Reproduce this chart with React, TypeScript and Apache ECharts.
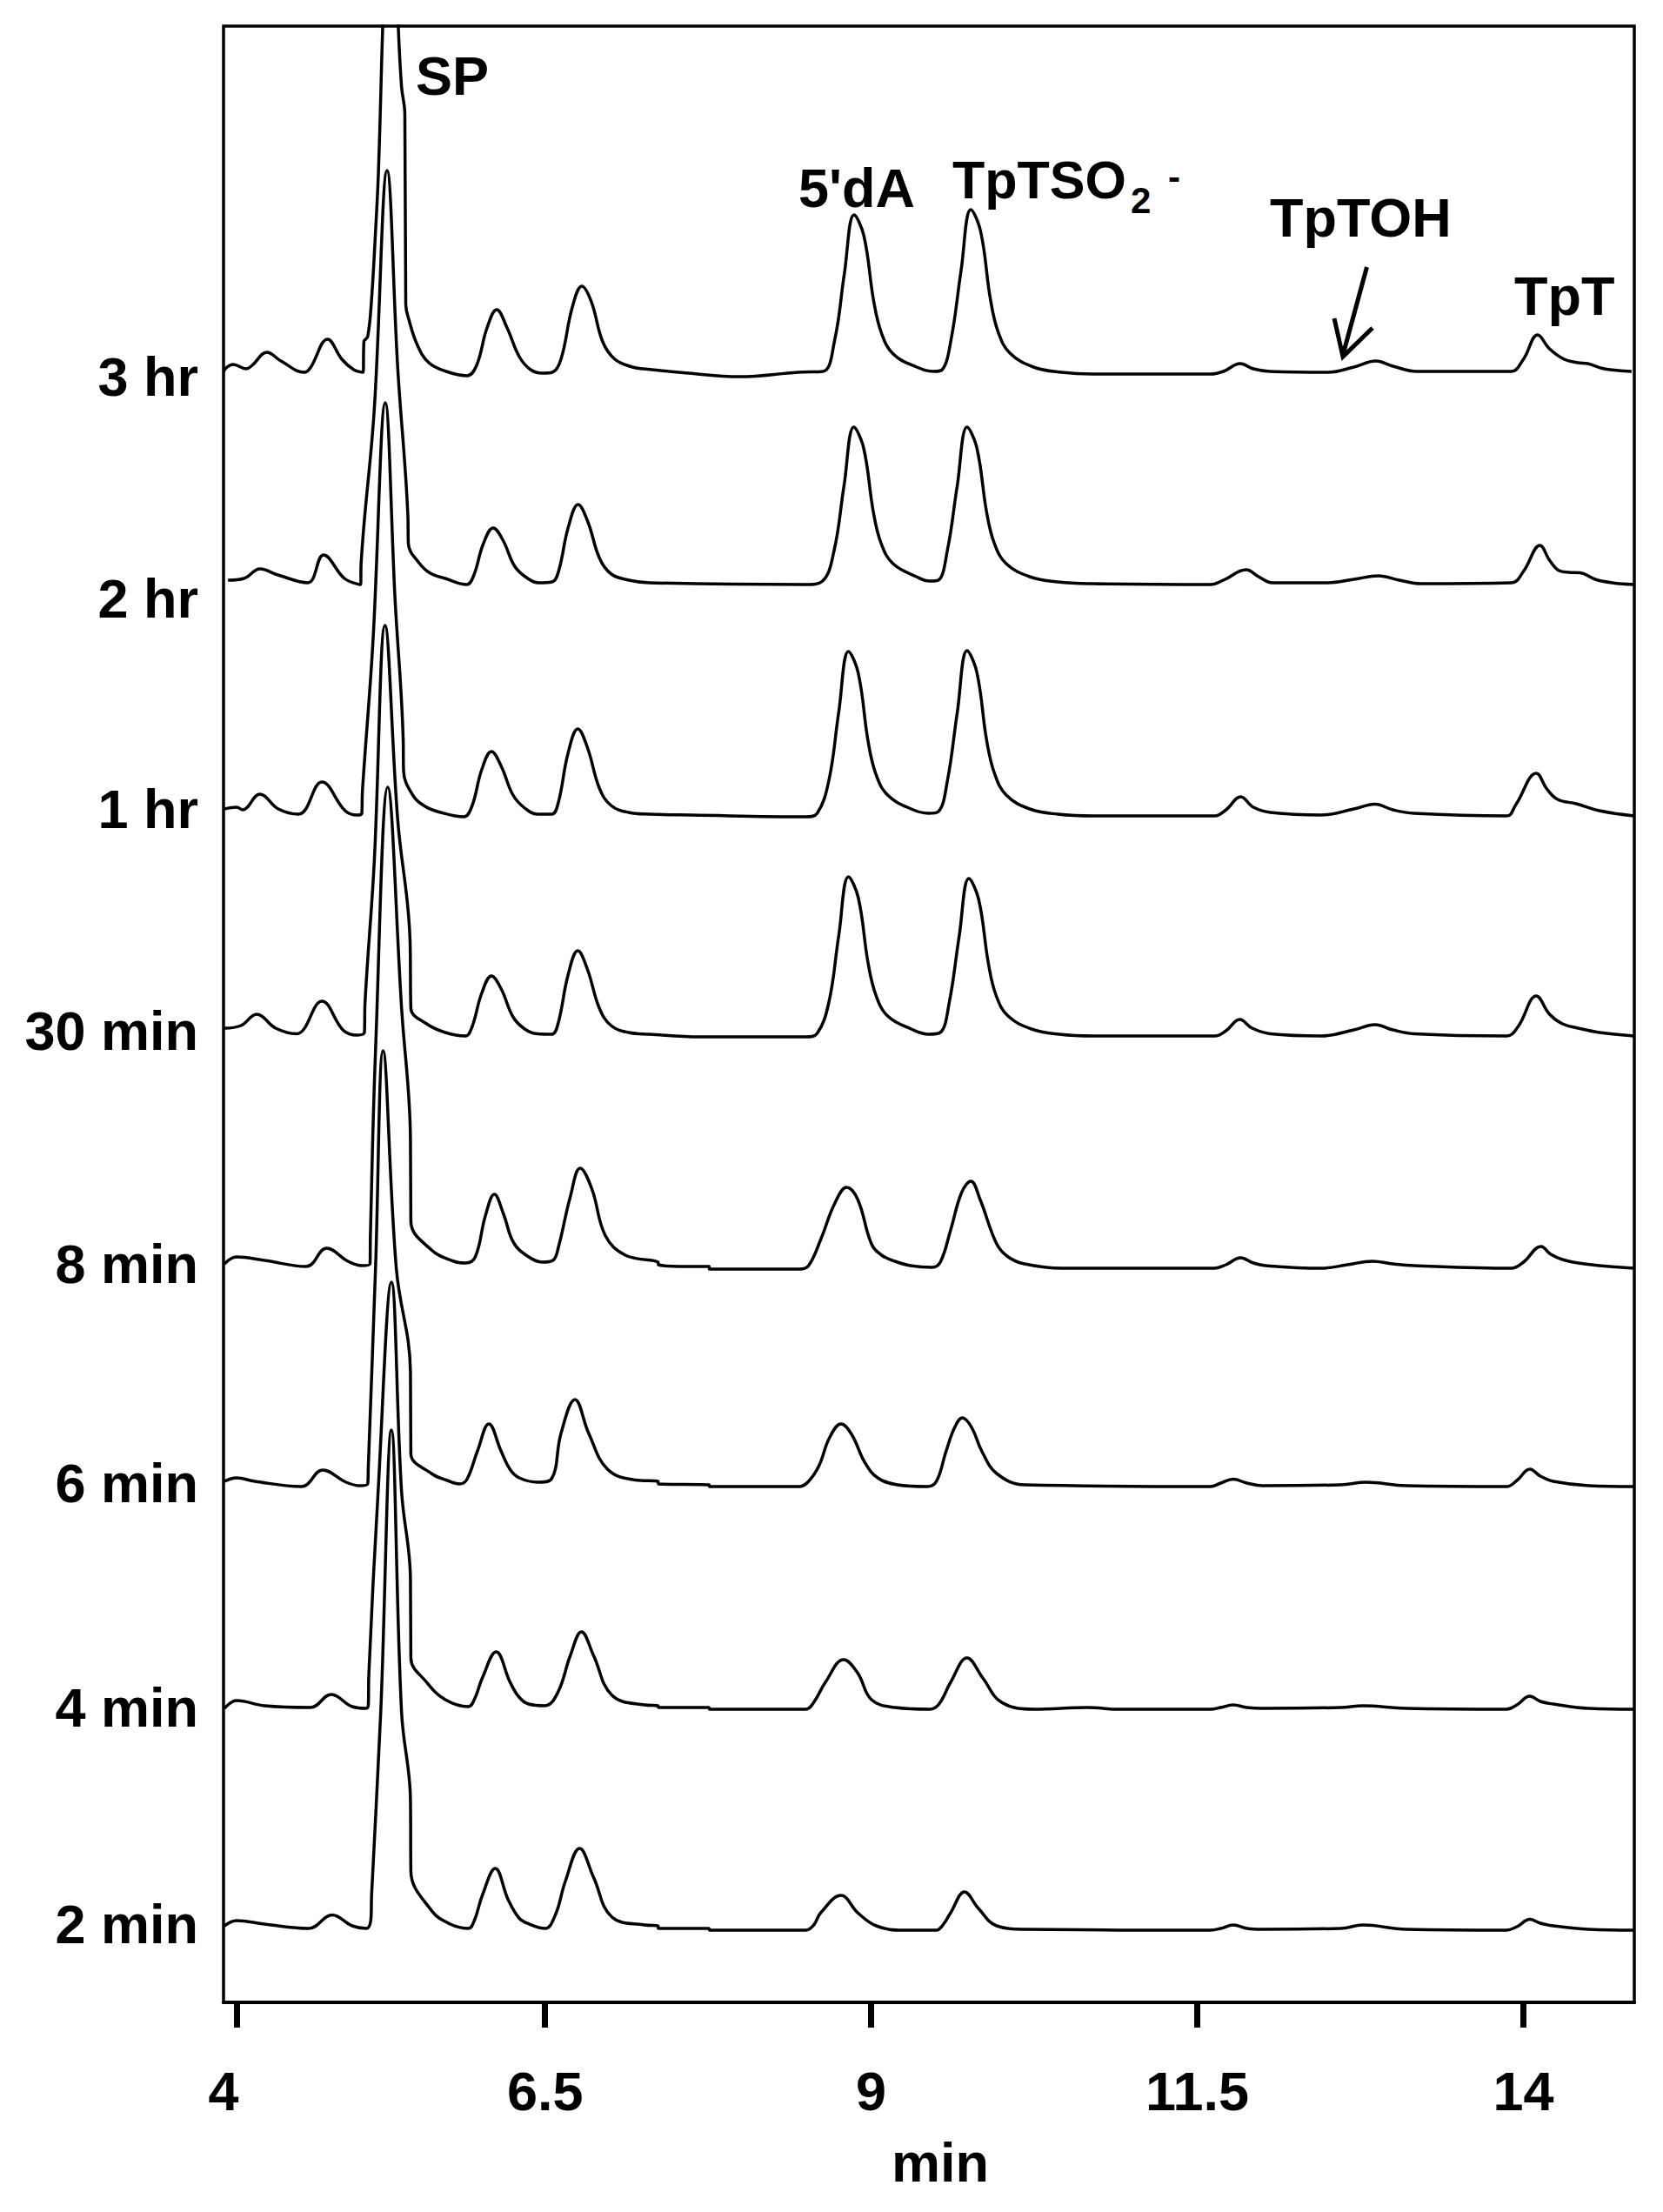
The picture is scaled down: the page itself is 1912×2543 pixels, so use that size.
import React, { useEffect, useRef } from 'react';
import * as echarts from 'echarts';

// Trace names (top to bottom) and flat-baseline offsets (stacked display units)
const TRACE_NAMES = ['3 hr', '2 hr', '1 hr', '30 min', '8 min', '6 min', '4 min', '2 min'];
const BASELINES = [1871, 1630, 1363, 1110, 843, 593, 337, 83];
const LABEL_LEVELS = [1869, 1614, 1372, 1117, 849, 597, 339, 90];

const X_TICK_VALUES = [4.14, 6.5, 9, 11.5, 14];
const X_LABEL_VALUES = [4.035, 6.5, 9, 11.5, 14];
const X_TICK_LABELS = ['4', '6.5', '9', '11.5', '14'];

// [retention time (min), signal above baseline]
const TRACE_3HR = [[4.035,3],[4.055,8],[4.109,12],[4.209,7],[4.255,11],[4.367,26],[4.475,16],[4.655,3],[4.70,8],[4.833,41],[4.942,18],[5.033,6],[5.105,3],[5.111,38],[5.14,44],[5.167,81],[5.20,164],[5.222,231],[5.242,331],[5.255,399],[5.315,640],[5.375,399],[5.40,331],[5.425,300],[5.432,81],[5.455,64],[5.522,34],[5.609,14],[5.742,4],[5.902,-1],[5.975,11],[6.055,54],[6.129,75],[6.209,54],[6.302,21],[6.389,6],[6.48,2],[6.555,3],[6.622,18],[6.709,78],[6.782,102],[6.855,84],[6.942,38],[7.035,18],[7.169,9],[7.255,7],[7.6,2],[7.989,-2],[8.44,3],[8.63,4],[8.72,40],[8.794,116],[8.869,184],[8.944,160],[9.019,85],[9.079,48],[9.169,24],[9.349,9],[9.479,4],[9.544,6],[9.614,42],[9.689,120],[9.764,190],[9.839,165],[9.914,87],[9.974,49],[10.064,25],[10.244,9],[10.46,3],[10.7,1],[11.602,1],[11.70,4],[11.829,13],[11.93,7],[12.055,4],[12.502,3],[12.7,9],[12.869,16],[13.0,10],[13.182,4],[13.905,4],[14.0,18],[14.109,46],[14.2,30],[14.312,18],[14.42,14],[14.493,13],[14.62,7],[14.829,4]];
const TRACE_2HR = [[4.069,5],[4.192,7],[4.314,18],[4.452,11],[4.68,2],[4.802,34],[4.962,7],[5.086,0],[5.09,25],[5.19,200],[5.289,476],[5.37,250],[5.448,80],[5.452,47],[5.533,25],[5.62,13],[5.735,7],[5.899,0],[5.952,10],[6.027,47],[6.102,65],[6.177,51],[6.267,21],[6.357,8],[6.45,2],[6.553,3],[6.603,15],[6.678,66],[6.753,92],[6.828,72],[6.918,30],[7.008,12],[7.143,5],[7.3,2],[8.5,0],[8.627,4],[8.717,40],[8.792,114],[8.867,181],[8.942,157],[9.017,83],[9.077,47],[9.167,24],[9.347,9],[9.45,4],[9.515,5],[9.585,40],[9.66,114],[9.735,181],[9.81,157],[9.885,83],[9.945,47],[10.035,24],[10.215,9],[10.43,3],[10.7,1],[11.6,0],[11.7,5],[11.875,17],[11.97,9],[12.075,2],[12.5,2],[12.7,6],[12.889,10],[13.05,5],[13.215,1],[13.909,2],[14.0,15],[14.127,45],[14.2,28],[14.273,16],[14.35,14],[14.435,13.5],[14.55,6],[14.68,2],[14.849,0]];
const TRACE_1HR = [[4.042,9],[4.135,11],[4.182,8],[4.313,26],[4.455,9],[4.611,3],[4.789,40],[4.967,7],[5.059,2],[5.095,4],[5.10,30],[5.18,200],[5.275,476],[5.35,250],[5.412,90],[5.415,53],[5.485,25],[5.58,12],[5.699,5],[5.875,0],[5.939,12],[6.014,54],[6.089,75],[6.164,58],[6.254,25],[6.344,10],[6.44,3],[6.551,3],[6.601,16],[6.676,73],[6.751,101],[6.826,79],[6.916,33],[7.006,13],[7.141,5],[7.3,3],[7.618,2],[8.5,0],[8.586,4],[8.676,42],[8.751,120],[8.826,190],[8.901,165],[8.976,87],[9.036,49],[9.126,25],[9.306,9],[9.44,4],[9.515,6],[9.585,42],[9.66,120],[9.735,191],[9.81,166],[9.885,88],[9.945,50],[10.035,25],[10.215,9],[10.43,3],[10.7,1],[11.633,1],[11.72,8],[11.832,23],[11.93,11],[12.06,5],[12.451,2],[12.7,9],[12.862,14.5],[13.0,8],[13.162,4],[13.872,1],[13.942,14],[14.099,50],[14.18,32],[14.262,20],[14.405,15],[14.582,7],[14.849,1]];
const TRACE_30MIN = [[4.042,10],[4.169,13],[4.289,26],[4.434,10],[4.595,3.5],[4.789,41],[4.953,7.6],[5.059,2],[5.115,5],[5.12,40],[5.19,200],[5.273,473],[5.37,250],[5.465,110],[5.471,33],[5.592,15],[5.735,5],[5.889,1],[5.939,11],[6.014,50],[6.089,70],[6.164,55],[6.254,23],[6.344,9],[6.44,3.5],[6.551,3],[6.601,16],[6.676,71],[6.751,99],[6.826,77],[6.916,33],[7.006,13],[7.141,5],[7.3,3],[7.689,0],[8.5,0],[8.586,4],[8.676,40],[8.751,116],[8.826,184],[8.901,160],[8.976,85],[9.036,48],[9.126,24],[9.306,9],[9.44,3],[9.529,5],[9.599,40],[9.674,115],[9.749,182],[9.824,158],[9.899,84],[9.959,47],[10.049,24],[10.229,9],[10.44,3],[10.7,1],[11.633,1],[11.72,7],[11.825,20],[11.92,10],[12.06,3.5],[12.451,1],[12.7,8],[12.862,14],[13.0,8],[13.162,3.5],[13.872,1],[13.96,12],[14.099,47],[14.2,26],[14.299,15],[14.42,10],[14.582,5],[14.849,1]];
const TRACE_8MIN = [[4.042,6],[4.135,14],[4.349,10],[4.669,3],[4.825,24],[4.989,9],[5.095,4],[5.158,6],[5.161,40],[5.2,250],[5.294,554],[5.4,300],[5.468,150],[5.471,55],[5.629,22],[5.8,9],[5.889,7],[5.965,14],[6.042,61],[6.111,86],[6.182,63],[6.26,30],[6.375,14],[6.48,8],[6.56,10],[6.602,25],[6.693,83],[6.769,116],[6.859,92],[6.962,38.5],[7.115,16],[7.366,8],[7.369,5],[7.6,3],[7.757,3],[7.76,0],[8.45,0],[8.52,4],[8.613,34],[8.719,75],[8.812,94],[8.897,80],[9.002,29],[9.08,16],[9.182,9],[9.3,4],[9.465,2],[9.53,8],[9.609,45],[9.693,88],[9.764,101],[9.835,80],[9.962,29],[10.05,14],[10.175,6],[10.462,1],[11.633,1],[11.72,5],[11.832,13],[11.93,7],[12.025,4],[12.451,1],[12.65,5],[12.842,9],[13.0,6],[13.162,4],[13.909,1],[14.0,8],[14.135,26],[14.21,17],[14.299,11],[14.42,7],[14.582,4],[14.849,1]];
const TRACE_6MIN = [[4.042,6],[4.135,10],[4.275,6],[4.633,0],[4.795,19],[4.974,5],[5.081,1],[5.14,3],[5.145,23],[5.2,250],[5.258,501],[5.36,250],[5.468,132],[5.471,38],[5.629,15],[5.75,7],[5.842,3],[5.90,8],[5.982,41],[6.069,72],[6.162,41],[6.23,20],[6.302,10],[6.445,5],[6.55,9],[6.622,61],[6.729,100],[6.835,61],[6.978,20],[7.191,7.5],[7.366,6],[7.369,3],[7.757,2],[7.76,0],[8.45,0],[8.52,6],[8.6,24],[8.68,56],[8.769,72],[8.85,60],[8.95,28],[9.05,10],[9.2,2],[9.429,0],[9.5,6],[9.573,40],[9.64,68],[9.70,79],[9.77,68],[9.85,40],[9.962,15],[10.175,2],[11.6,0],[11.68,4],[11.775,8.5],[11.88,4],[12.0,1],[12.6,2],[12.792,5],[13.1,1],[13.87,0],[13.95,7],[14.049,20],[14.13,12],[14.229,6],[14.5,1],[14.849,0]];
const TRACE_4MIN = [[4.042,1],[4.135,10],[4.349,4],[4.702,2],[4.86,17],[5.022,3],[5.129,1],[5.145,5],[5.149,40],[5.22,250],[5.322,491],[5.40,250],[5.468,150],[5.471,59],[5.592,31],[5.735,11],[5.912,3],[5.96,12],[6.019,36],[6.125,66],[6.232,31],[6.30,14],[6.374,6],[6.5,4],[6.6,20],[6.694,62],[6.779,89],[6.871,62],[7.013,16],[7.262,5],[7.366,4],[7.369,2],[7.757,2],[7.76,0],[8.5,0],[8.56,8],[8.649,31],[8.789,57],[8.897,41.5],[9.002,11],[9.182,2],[9.45,0],[9.52,6],[9.609,31],[9.735,59],[9.855,36],[9.999,8],[10.25,0],[10.659,2],[10.9,0],[11.6,0],[11.68,2],[11.775,5],[11.88,2],[12.0,1],[12.6,2],[12.769,4],[13.1,1],[13.87,0],[13.95,5],[14.049,15],[14.13,9],[14.229,6],[14.5,1],[14.849,0]];
const TRACE_2MIN = [[4.042,5],[4.135,11],[4.349,7],[4.689,2],[4.867,17.5],[5.022,5],[5.129,2],[5.166,15],[5.17,40],[5.24,250],[5.322,575],[5.40,250],[5.468,150],[5.471,68],[5.629,22.6],[5.769,7.3],[5.912,2],[5.96,12],[6.019,40],[6.118,71],[6.217,35],[6.30,14],[6.374,7.3],[6.5,2],[6.58,18],[6.655,56],[6.765,94],[6.871,61],[7.013,15],[7.262,6],[7.366,5],[7.369,2],[7.757,2],[7.76,0],[8.5,0],[8.56,6],[8.613,20],[8.769,40],[8.897,20],[9.039,5],[9.25,0],[9.5,0],[9.55,6],[9.609,20],[9.715,44],[9.822,25],[9.962,5],[10.175,1],[11.6,0],[11.68,2],[11.775,6],[11.88,2],[12.0,1],[12.6,2],[12.769,6],[13.1,1],[13.87,0],[13.95,4],[14.049,12.4],[14.13,8],[14.229,5],[14.5,1],[14.849,0]];

const TRACES = [TRACE_3HR, TRACE_2HR, TRACE_1HR, TRACE_30MIN, TRACE_8MIN, TRACE_6MIN, TRACE_4MIN, TRACE_2MIN];

const FONT = '"Liberation Sans", Arial, Helvetica, sans-serif';

function labelFor(values: number[], labels: string[], v: number) {
  let best = 0;
  for (let i = 1; i < values.length; i++) {
    if (Math.abs(values[i] - v) < Math.abs(values[best] - v)) best = i;
  }
  return labels[best];
}

export default function App() {
  const ref = useRef<HTMLDivElement>(null);
  useEffect(() => {
    if (!ref.current) return;
    const chart = echarts.init(ref.current, undefined, { renderer: 'svg' });
    const textStyle = { fontFamily: FONT, fontWeight: 'bold' as const, fontSize: 63, color: '#000' };
    const annot = (text: string, x: number, y: number, size = 63) => ({
      type: 'text', x, y, z: 100,
      style: { text, fontFamily: FONT, fontWeight: 'bold', fontSize: size, fill: '#000', align: 'left', verticalAlign: 'middle' },
    });
    chart.setOption({
      animation: false,
      backgroundColor: '#fff',
      grid: { left: 257, right: 33, top: 30, bottom: 241, show: true, borderColor: '#000', borderWidth: 3.5, backgroundColor: 'transparent' },
      xAxis: {
        type: 'value', min: 4.035, max: 14.85,
        axisLine: { show: true, lineStyle: { color: '#000', width: 4 } },
        axisTick: { show: true, customValues: X_TICK_VALUES, length: 29, inside: false, lineStyle: { color: '#000', width: 7 } },
        axisLabel: { show: true, customValues: X_LABEL_VALUES, margin: 70, ...textStyle, hideOverlap: false,
          formatter: (v: number) => labelFor(X_LABEL_VALUES, X_TICK_LABELS, v) },
        splitLine: { show: false },
        name: 'min', nameLocation: 'middle', nameGap: 152, nameTextStyle: { ...textStyle, padding: [0, 0, 0, 26] },
      },
      yAxis: {
        type: 'value', min: 0, max: 2272,
        axisLine: { show: false }, axisTick: { show: false }, splitLine: { show: false },
        axisLabel: { show: true, customValues: LABEL_LEVELS, margin: 29, ...textStyle, hideOverlap: false,
          formatter: (v: number) => labelFor(LABEL_LEVELS, TRACE_NAMES, v) },
      },
      series: TRACES.map((tr, i) => ({
        name: TRACE_NAMES[i], type: 'line', showSymbol: false, symbol: 'none', clip: true,
        smooth: 0.4,
        lineStyle: { color: '#000', width: 3.5, join: 'round' },
        data: tr.map(([t, h]) => [t, BASELINES[i] + h]),
      })),
      graphic: [
        annot('SP', 478, 87),
        annot("5'dA", 918, 216),
        annot('TpTSO', 1095, 207, 61),
        annot('2', 1300, 230, 42),
        annot('-', 1343, 203, 42),
        annot('TpTOH', 1460, 250),
        annot('TpT', 1741, 340),
        { type: 'line', z: 100, shape: { x1: 1571.5, y1: 307, x2: 1544, y2: 408 }, style: { stroke: '#000', lineWidth: 5 } },
        { type: 'polyline', z: 100, shape: { points: [[1534, 366], [1544, 410], [1578, 377]] }, style: { stroke: '#000', lineWidth: 5, fill: null } },
      ],
    });
    return () => chart.dispose();
  }, []);
  return <div ref={ref} style={{ position: 'absolute', left: 0, top: 0, width: 1912, height: 2543, background: '#fff' }} />;
}
